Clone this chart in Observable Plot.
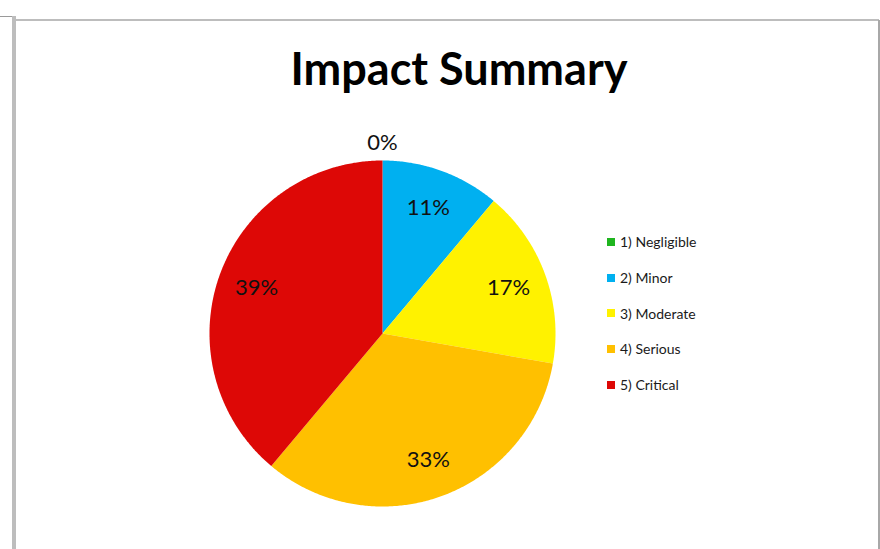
<!DOCTYPE html>
<html>
<head>
<meta charset="utf-8">
<script src="https://cdn.jsdelivr.net/npm/d3@7"></script>
<script src="https://cdn.jsdelivr.net/npm/@observablehq/plot@0.6"></script>
<style>
  html, body { margin: 0; padding: 0; background: #fff; }
  #wrap { position: relative; width: 880px; height: 549px; overflow: hidden; background: #fff; font-family: Lato, "Open Sans", sans-serif; }
  .hline0 { position: absolute; left: 0; top: 16px; width: 13px; height: 1px; background: #9a9a9a; }
  .vbar { position: absolute; left: 12px; top: 16px; width: 4px; height: 540px; background: #bdbdbd; }
  .topline { position: absolute; left: 15px; top: 19px; width: 864px; height: 2px; background: #bdbdbd; }
  .rightline { position: absolute; left: 878px; top: 20px; width: 2px; height: 540px; background: #a8a8a8; }
  #title { position: absolute; left: 0; width: 918px; top: 41px; text-align: center; font-weight: bold; font-size: 45px; color: #000; white-space: nowrap; }
  #pie { position: absolute; left: 182px; top: 133px; }
  #legend { position: absolute; left: 607px; top: 224px; }
  .item { display: flex; align-items: center; height: 35.7px; font-size: 14px; color: #1a1a1a; }
  .sw { width: 8px; height: 8px; margin-right: 5px; }
</style>
</head>
<body>
<div id="wrap">
  <div class="hline0"></div>
  <div class="vbar"></div>
  <div class="topline"></div>
  <div class="rightline"></div>
  <div id="title">Impact Summary</div>
  <div id="pie"></div>
  <div id="legend"></div>
</div>
<script>
const categories = ["1) Negligible", "2) Minor", "3) Moderate", "4) Serious", "5) Critical"];
const counts = [0, 2, 3, 6, 7];
const colors = ["#1fb51f", "#00b0f0", "#fff200", "#ffc000", "#dd0806"];

const total = d3.sum(counts);
const R = 1;            // pie radius in data units
const sizePx = 400;
const half = sizePx / 2 / 173; // 173px radius

// build slice polygons from the data
const polys = [];
const labels = [];
let acc = 0;
categories.forEach((c, i) => {
  const v = counts[i];
  const a0 = acc / total * 2 * Math.PI;
  acc += v;
  const a1 = acc / total * 2 * Math.PI;
  if (v > 0) {
    polys.push({cat: c, x: 0, y: 0});
    const n = Math.max(2, Math.ceil((a1 - a0) / (Math.PI / 360)));
    for (let k = 0; k <= n; k++) {
      const a = a0 + (a1 - a0) * k / n;
      polys.push({cat: c, x: R * Math.sin(a), y: R * Math.cos(a)});
    }
    polys.push({cat: c, x: 0, y: 0});
  }
  const am = (a0 + a1) / 2;
  const lr = v > 0 ? 0.775 * R : 1.1 * R;
  labels.push({cat: c, x: lr * Math.sin(am), y: lr * Math.cos(am), text: Math.round(v / total * 100) + "%"});
});

const chart = Plot.plot({
  width: sizePx,
  height: sizePx,
  margin: 0,
  x: {domain: [-half, half], axis: null},
  y: {domain: [-half, half], axis: null},
  color: {domain: categories, range: colors},
  marks: [
    Plot.line(polys, {x: "x", y: "y", z: "cat", fill: "cat", stroke: "none", curve: "linear"}),
    Plot.text(labels, {x: "x", y: "y", text: "text", fill: "#111", fontSize: 22, fontFamily: "Lato, sans-serif"})
  ],
  style: {background: "transparent", overflow: "visible"}
});
document.getElementById("pie").appendChild(chart);

const legend = document.getElementById("legend");
categories.forEach((c, i) => {
  const row = document.createElement("div");
  row.className = "item";
  const sw = document.createElement("span");
  sw.className = "sw";
  sw.style.background = colors[i];
  const t = document.createElement("span");
  t.textContent = c;
  row.appendChild(sw);
  row.appendChild(t);
  legend.appendChild(row);
});
</script>
</body>
</html>
